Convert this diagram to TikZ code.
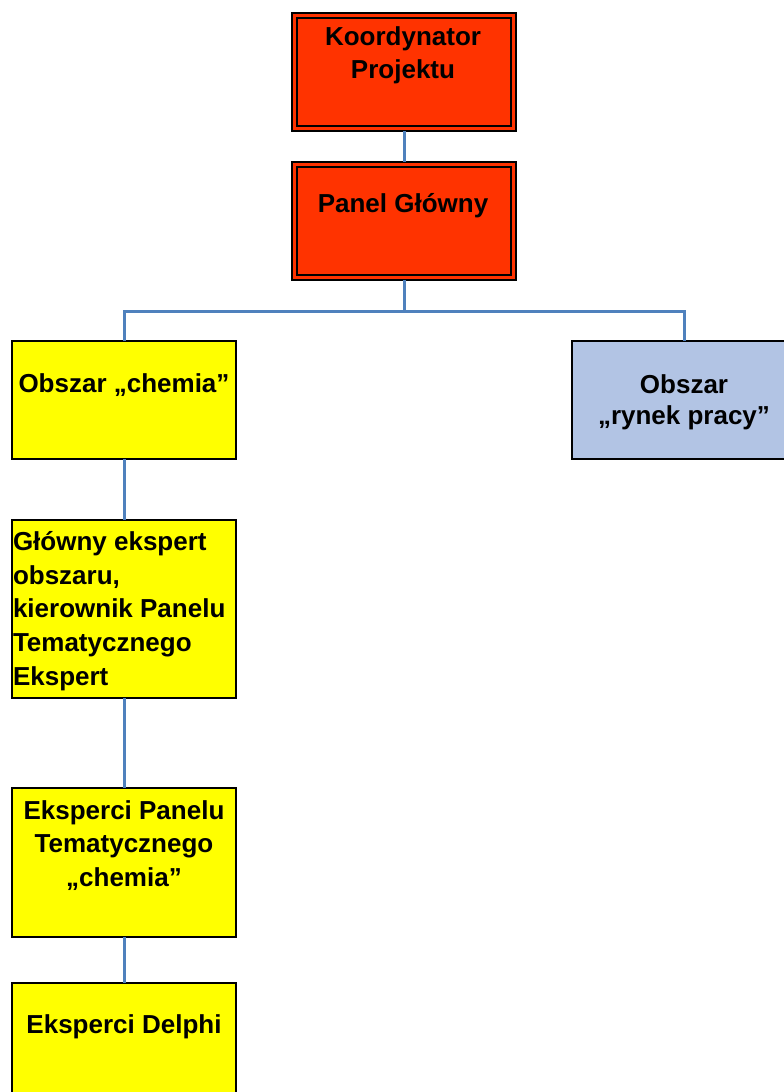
\documentclass[tikz,border=0pt]{standalone}
\usepackage{fontspec}
\setmainfont{Liberation Sans}
\definecolor{redorange}{RGB}{255,51,0}
\definecolor{areablue}{RGB}{178,196,228}
\definecolor{areayellow}{RGB}{255,255,0}
\definecolor{connblue}{RGB}{79,129,189}
\begin{document}
\begin{tikzpicture}[x=1pt,y=-1pt,
  box/.style={draw=black, line width=2pt, minimum width=224pt, inner sep=0pt, outer sep=0pt, anchor=north west},
  redbox/.style={box, fill=redorange, minimum height=118pt},
  yelbox/.style={box, fill=areayellow},
  bluebox/.style={box, fill=areablue, minimum height=118pt},
  inner/.style={draw=black, line width=2pt},
  conn/.style={draw=connblue, line width=3pt},
  txt/.style={font=\bfseries\fontsize{26}{33.5}\selectfont, inner sep=0pt, outer sep=0pt, text=black}
]
\useasboundingbox (0,0) rectangle (784,1092);
% boxes
\node[redbox] (koord) at (292,13) {};
\node[redbox] (panel) at (292,162) {};
\node[yelbox, minimum height=118pt] (chem) at (12,341) {};
\node[bluebox] (rynek) at (572,341) {};
\node[yelbox, minimum height=178pt] (glowny) at (12,520) {};
\node[yelbox, minimum height=149pt] (eksp) at (12,788) {};
\node[yelbox, minimum height=118pt] (delphi) at (12,983) {};
% inner borders of the double-framed boxes
\draw[inner] ([shift={(5,5)}]koord.north west) rectangle ([shift={(-5,-5)}]koord.south east);
\draw[inner] ([shift={(5,5)}]panel.north west) rectangle ([shift={(-5,-5)}]panel.south east);
% connectors
\coordinate (split) at ([yshift=-31pt]panel.south);
\draw[conn] (koord.south) -- (panel.north);
\draw[conn] (panel.south) -- (split);
\draw[conn] (split) -| (chem.north);
\draw[conn] (split) -| (rynek.north);
\draw[conn] (chem.south) -- (glowny.north);
\draw[conn] (glowny.south) -- (eksp.north);
\draw[conn] (eksp.south) -- (delphi.north);
% texts
\node[txt, anchor=base] (tkoord1) at (403,45) {Koordynator};
\node[txt, anchor=base] (tkoord2) at (403,78) {Projektu};
\node[txt, anchor=base] (tpanel) at (403,212) {Panel Główny};
\node[txt, anchor=base] (tchem) at (124,392) {Obszar „chemia”};
\node[txt, anchor=base] (trynek1) at (684,393) {Obszar};
\node[txt, anchor=base] (trynek2) at (684,424) {„rynek pracy”};
\node[txt, anchor=base west] (tglow1) at (13,550) {Główny ekspert};
\node[txt, anchor=base west] (tglow2) at (13,584) {obszaru,};
\node[txt, anchor=base west] (tglow3) at (13,617) {kierownik Panelu};
\node[txt, anchor=base west] (tglow4) at (13,651) {Tematycznego};
\node[txt, anchor=base west] (tglow5) at (13,685) {Ekspert};
\node[txt, anchor=base] (teksp1) at (124,819) {Eksperci Panelu};
\node[txt, anchor=base] (teksp2) at (124,852) {Tematycznego};
\node[txt, anchor=base] (teksp3) at (124,886) {„chemia”};
\node[txt, anchor=base] (tdelphi) at (124,1033) {Eksperci Delphi};
\end{tikzpicture}
\end{document}
